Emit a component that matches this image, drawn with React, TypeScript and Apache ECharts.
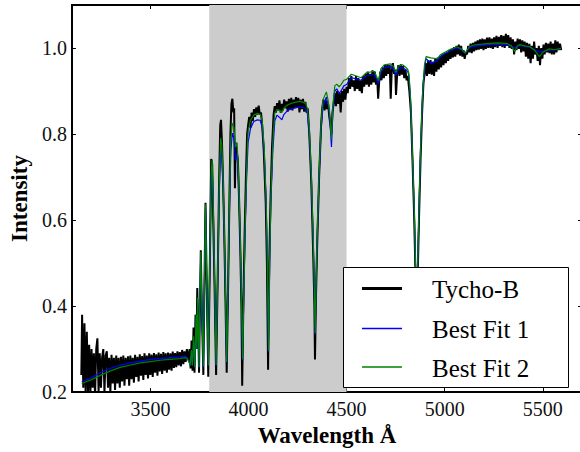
import React, { useEffect, useRef } from "react";
import * as echarts from "echarts";

const tickWavelengths = [3500, 4000, 4500, 5000, 5500];
const tickIntensities = [0.2, 0.4, 0.6, 0.8, 1.0];
const shadedRange = [3800, 4500];
const seriesNames = ["Tycho-B", "Best Fit 1", "Best Fit 2"];
const seriesColors = ["#000000", "#0000ff", "#008000"];

const fitWavelengths = [
  3150, 3200, 3250, 3300, 3350, 3400, 3450, 3500, 3550, 3600, 3650, 3678, 3690, 3698,
  3703, 3709, 3714, 3720, 3726, 3733, 3737, 3741, 3748, 3752, 3757, 3763, 3770, 3775,
  3781, 3787, 3795, 3803, 3810, 3815, 3820, 3827, 3835, 3843, 3850, 3858, 3864, 3870,
  3877, 3883, 3889, 3895, 3902, 3910, 3918, 3926, 3934, 3942, 3950, 3958, 3964, 3970,
  3976, 3982, 3990, 3998, 4010, 4027, 4045, 4060, 4070, 4080, 4090, 4096, 4102, 4108,
  4114, 4124, 4134, 4145, 4160, 4170, 4180, 4200, 4230, 4263, 4290, 4300, 4310, 4320,
  4330, 4336, 4340, 4344, 4350, 4360, 4370, 4380, 4397, 4406, 4414, 4423, 4430, 4440,
  4450, 4462, 4472, 4486, 4500, 4524, 4550, 4574, 4600, 4641, 4663, 4675, 4692, 4725,
  4740, 4751, 4765, 4785, 4800, 4812, 4818, 4826, 4835, 4845, 4851, 4857, 4863, 4869,
  4877, 4887, 4897, 4905, 4930, 4962, 4978, 5020, 5062, 5085, 5105, 5125, 5147, 5190,
  5231, 5270, 5315, 5340, 5357, 5370, 5382, 5410, 5433, 5460, 5483, 5500, 5533, 5560, 5593,
];

const bestFit1 = [
  0.224, 0.234, 0.246, 0.256, 0.263, 0.268, 0.272, 0.276, 0.278, 0.280, 0.282, 0.284, 0.278, 0.270,
  0.262, 0.290, 0.262, 0.320, 0.258, 0.370, 0.300, 0.415, 0.258, 0.400, 0.515, 0.380, 0.258, 0.430,
  0.628, 0.460, 0.261, 0.500, 0.700, 0.728, 0.640, 0.460, 0.261, 0.460, 0.650, 0.761, 0.745, 0.690,
  0.560, 0.420, 0.268, 0.420, 0.600, 0.760, 0.802, 0.790, 0.740, 0.755, 0.680, 0.550, 0.420, 0.274,
  0.420, 0.550, 0.690, 0.780, 0.812, 0.829, 0.833, 0.832, 0.815, 0.760, 0.640, 0.500, 0.294, 0.500,
  0.640, 0.760, 0.830, 0.844, 0.838, 0.833, 0.845, 0.855, 0.860, 0.863, 0.860, 0.848, 0.800, 0.700,
  0.550, 0.430, 0.334, 0.430, 0.550, 0.700, 0.810, 0.865, 0.886, 0.868, 0.840, 0.770, 0.850, 0.900,
  0.905, 0.895, 0.900, 0.912, 0.915, 0.931, 0.928, 0.925, 0.935, 0.939, 0.917, 0.945, 0.954, 0.958,
  0.950, 0.936, 0.952, 0.955, 0.950, 0.945, 0.935, 0.880, 0.760, 0.620, 0.500, 0.350, 0.500, 0.620,
  0.760, 0.880, 0.950, 0.975, 0.965, 0.970, 0.980, 0.992, 1.000, 0.996, 0.988, 1.000, 1.004, 1.006,
  1.008, 1.009, 1.008, 1.004, 1.000, 1.004, 1.006, 1.004, 1.002, 0.996, 0.990, 0.993, 0.995, 0.996, 0.998,
];

const bestFit2 = [
  0.220, 0.229, 0.240, 0.250, 0.258, 0.263, 0.268, 0.271, 0.274, 0.276, 0.278, 0.280, 0.276, 0.268,
  0.262, 0.298, 0.262, 0.330, 0.258, 0.380, 0.300, 0.420, 0.258, 0.410, 0.526, 0.385, 0.260, 0.440,
  0.637, 0.465, 0.262, 0.510, 0.712, 0.740, 0.650, 0.465, 0.263, 0.470, 0.670, 0.791, 0.775, 0.710,
  0.570, 0.425, 0.270, 0.430, 0.620, 0.790, 0.825, 0.815, 0.770, 0.780, 0.700, 0.560, 0.425, 0.277,
  0.425, 0.565, 0.710, 0.805, 0.832, 0.844, 0.848, 0.846, 0.830, 0.770, 0.650, 0.510, 0.297, 0.510,
  0.650, 0.780, 0.848, 0.857, 0.855, 0.850, 0.860, 0.868, 0.873, 0.876, 0.872, 0.860, 0.815, 0.710,
  0.560, 0.435, 0.337, 0.435, 0.560, 0.710, 0.825, 0.880, 0.898, 0.878, 0.850, 0.788, 0.865, 0.912,
  0.916, 0.910, 0.915, 0.925, 0.927, 0.939, 0.935, 0.931, 0.942, 0.946, 0.924, 0.952, 0.961, 0.963,
  0.956, 0.943, 0.958, 0.961, 0.956, 0.950, 0.940, 0.885, 0.765, 0.625, 0.505, 0.360, 0.505, 0.625,
  0.765, 0.890, 0.960, 0.980, 0.977, 0.975, 0.984, 0.995, 1.003, 0.998, 0.988, 1.003, 1.007, 1.009,
  1.011, 1.012, 1.011, 1.005, 0.992, 1.004, 1.008, 1.005, 1.003, 0.994, 0.980, 0.990, 0.998, 0.996, 0.999,
];

const tychoWavelengths = [
  3148, 3152, 3158, 3164, 3170, 3176, 3182, 3188, 3194, 3200, 3206, 3212, 3218, 3224, 3230, 3236,
  3242, 3248, 3254, 3260, 3266, 3272, 3278, 3284, 3290, 3296, 3302, 3308, 3314, 3320, 3326, 3332,
  3338, 3344, 3350, 3356, 3362, 3368, 3374, 3380, 3386, 3392, 3398, 3404, 3410, 3416, 3422, 3428,
  3434, 3440, 3446, 3452, 3458, 3464, 3470, 3476, 3482, 3488, 3494, 3500, 3506, 3512, 3518, 3524,
  3530, 3536, 3542, 3548, 3554, 3560, 3566, 3572, 3578, 3584, 3590, 3596, 3602, 3608, 3614, 3620,
  3626, 3632, 3638, 3644, 3650, 3656, 3662, 3668, 3674, 3680, 3686,
  3690, 3695, 3700, 3705, 3710, 3715, 3720, 3725, 3730, 3735, 3739, 3744, 3748, 3752, 3757, 3763,
  3770, 3775, 3781, 3787, 3795, 3803, 3810, 3815, 3820, 3827, 3835, 3843, 3850, 3856, 3860, 3865,
  3870, 3877, 3883, 3889, 3895, 3902, 3908, 3913, 3918, 3923, 3927, 3931, 3935, 3940, 3946, 3952,
  3958, 3964, 3968, 3974, 3980, 3987, 3993, 3998, 4004, 4010, 4016, 4022, 4028, 4034, 4040, 4046,
  4052, 4058, 4064, 4070, 4078, 4088, 4094, 4100, 4106, 4112, 4120, 4128, 4134, 4140, 4146, 4152,
  4158, 4164, 4170, 4176, 4182, 4188, 4194, 4200, 4206, 4212, 4218, 4224, 4230, 4236, 4242, 4248,
  4254, 4260, 4266, 4272, 4278, 4284, 4290, 4296, 4302, 4310, 4320, 4330, 4336, 4339, 4344, 4350,
  4360, 4370, 4376, 4382, 4388, 4394, 4400, 4406, 4412, 4418, 4423, 4428, 4434, 4440, 4446, 4452,
  4458, 4464, 4470, 4476, 4482, 4488, 4494, 4500,
  4506, 4512, 4518, 4524, 4530, 4536, 4542, 4548, 4554, 4560, 4566, 4572, 4578, 4584, 4590, 4596,
  4602, 4608, 4614, 4620, 4626, 4632, 4638, 4644, 4650, 4656, 4661, 4666, 4672, 4678, 4684, 4690,
  4696, 4702, 4708, 4714, 4720, 4725, 4730, 4736, 4742, 4748, 4752, 4758, 4764, 4770, 4776, 4782,
  4788, 4794, 4800, 4806, 4812, 4820, 4828, 4836, 4845, 4851, 4857, 4863, 4869, 4877, 4885, 4892,
  4898, 4904, 4910, 4916, 4922, 4928, 4934, 4940, 4946, 4952, 4958, 4964, 4970, 4976, 4982, 4988,
  4994, 5000, 5006, 5012, 5018, 5024, 5030, 5036, 5042, 5048, 5054, 5060, 5066, 5072, 5078, 5084,
  5090, 5096, 5102, 5108, 5114, 5120, 5126, 5132, 5138, 5144, 5150, 5156, 5162, 5168, 5174, 5180,
  5186, 5192, 5198, 5204, 5210, 5216, 5222, 5228, 5234, 5240, 5246, 5252, 5258, 5264, 5270, 5276,
  5282, 5288, 5294, 5300, 5306, 5312, 5318, 5324, 5330, 5336, 5342, 5348, 5354, 5360, 5366, 5372,
  5378, 5384, 5390, 5396, 5402, 5408, 5414, 5420, 5426, 5432, 5438, 5444, 5450, 5456, 5462, 5468,
  5474, 5480, 5486, 5492, 5498, 5504, 5510, 5516, 5522, 5528, 5534, 5540, 5546, 5552, 5558, 5564,
  5570, 5576, 5582, 5588, 5594,
];

const tychoIntensity = [
  0.240, 0.380, 0.210, 0.360, 0.190, 0.340, 0.200, 0.310, 0.190, 0.300, 0.210, 0.290, 0.190, 0.300, 0.325, 0.200,
  0.290, 0.210, 0.280, 0.300, 0.200, 0.285, 0.295, 0.210, 0.280, 0.200, 0.287, 0.220, 0.280, 0.205, 0.285, 0.220,
  0.280, 0.210, 0.282, 0.225, 0.285, 0.215, 0.280, 0.230, 0.283, 0.215, 0.285, 0.230, 0.280, 0.222, 0.287, 0.235,
  0.282, 0.225, 0.288, 0.238, 0.284, 0.228, 0.290, 0.240, 0.285, 0.232, 0.290, 0.240, 0.287, 0.235, 0.291, 0.245,
  0.288, 0.238, 0.292, 0.248, 0.289, 0.242, 0.293, 0.250, 0.290, 0.245, 0.292, 0.252, 0.290, 0.250, 0.294, 0.256,
  0.291, 0.258, 0.295, 0.262, 0.293, 0.260, 0.298, 0.265, 0.295, 0.270, 0.300,
  0.290, 0.275, 0.300, 0.255, 0.320, 0.250, 0.350, 0.245, 0.380, 0.300, 0.442, 0.350, 0.245, 0.380, 0.530, 0.380,
  0.240, 0.430, 0.640, 0.460, 0.236, 0.500, 0.742, 0.730, 0.610, 0.450, 0.240, 0.460, 0.680, 0.820, 0.833, 0.780,
  0.700, 0.560, 0.410, 0.245, 0.410, 0.620, 0.800, 0.870, 0.882, 0.850, 0.860, 0.674, 0.780, 0.760, 0.740, 0.650,
  0.540, 0.400, 0.215, 0.410, 0.560, 0.700, 0.800, 0.820, 0.840, 0.815, 0.850, 0.830, 0.858, 0.840, 0.862, 0.845,
  0.866, 0.845, 0.850, 0.820, 0.760, 0.640, 0.500, 0.252, 0.500, 0.640, 0.770, 0.845, 0.865, 0.850, 0.872, 0.855,
  0.878, 0.850, 0.870, 0.855, 0.880, 0.860, 0.876, 0.852, 0.882, 0.858, 0.884, 0.855, 0.880, 0.860, 0.886, 0.862,
  0.884, 0.850, 0.880, 0.858, 0.882, 0.852, 0.875, 0.850, 0.860, 0.800, 0.690, 0.520, 0.400, 0.276, 0.420, 0.540,
  0.700, 0.820, 0.860, 0.880, 0.855, 0.878, 0.858, 0.870, 0.840, 0.820, 0.800, 0.850, 0.870, 0.895, 0.865, 0.900,
  0.870, 0.895, 0.850, 0.900, 0.875, 0.905, 0.880, 0.910,
  0.895, 0.930, 0.905, 0.935, 0.910, 0.925, 0.900, 0.935, 0.905, 0.930, 0.900, 0.925, 0.895, 0.935, 0.910, 0.940,
  0.915, 0.945, 0.910, 0.940, 0.915, 0.948, 0.920, 0.945, 0.915, 0.930, 0.882, 0.920, 0.945, 0.925, 0.955, 0.930,
  0.960, 0.935, 0.962, 0.940, 0.960, 0.882, 0.945, 0.965, 0.940, 0.950, 0.891, 0.940, 0.960, 0.935, 0.962, 0.938,
  0.958, 0.930, 0.950, 0.925, 0.935, 0.900, 0.850, 0.740, 0.600, 0.480, 0.330, 0.480, 0.600, 0.740, 0.850, 0.920,
  0.940, 0.965, 0.935, 0.970, 0.940, 0.972, 0.938, 0.968, 0.935, 0.975, 0.945, 0.978, 0.950, 0.982, 0.955, 0.985,
  0.960, 0.988, 0.965, 0.990, 0.970, 0.995, 0.975, 0.998, 0.978, 1.002, 0.980, 1.005, 0.985, 1.008, 0.982, 1.005,
  0.980, 0.995, 0.975, 0.990, 0.985, 1.005, 0.990, 1.010, 0.988, 1.012, 0.992, 1.015, 0.995, 1.018, 0.996, 1.020,
  0.998, 1.022, 0.995, 1.020, 0.998, 1.024, 1.000, 1.025, 1.000, 1.022, 0.998, 1.025, 1.002, 1.028, 1.000, 1.026,
  1.005, 1.030, 1.002, 1.028, 1.000, 1.033, 1.005, 1.030, 1.000, 1.025, 0.998, 1.020, 0.985, 1.015, 0.995, 1.022,
  0.998, 1.020, 0.990, 1.018, 0.992, 1.015, 0.980, 1.012, 0.975, 1.010, 0.965, 1.005, 0.975, 1.015, 0.985, 1.000,
  0.970, 1.005, 0.960, 1.000, 0.975, 1.008, 0.985, 1.012, 0.990, 1.010, 0.988, 1.015, 0.985, 1.010, 0.985, 1.018,
  0.990, 1.015, 0.995, 1.010, 0.995,
];

const FONT = "Liberation Serif";

export default function App() {
  const ref = useRef<HTMLDivElement>(null);

  useEffect(() => {
    if (!ref.current) return;
    const chart = echarts.init(ref.current, null, { renderer: "svg" });
    const zip = (xs: number[], ys: number[]) => xs.map((x, i) => [x, ys[i]]);

    const spine = { show: true, onZero: false, lineStyle: { color: "#000", width: 2 } };
    const tickStyle = { color: "#000", width: 1 };

    const legendRows = [288.5, 328.5, 367];
    const legendWidths = [3, 1.5, 1.5];
    const LZ = 100;

    chart.setOption({
      animation: false,
      backgroundColor: "#ffffff",
      grid: { left: 68, right: 0, top: 5, bottom: 50, show: false },
      xAxis: [
        {
          type: "value",
          position: "bottom",
          min: 3100,
          max: 5700,
          axisLine: spine,
          axisTick: { show: true, inside: true, length: 4, customValues: tickWavelengths, lineStyle: tickStyle },
          axisLabel: {
            show: true,
            customValues: tickWavelengths,
            formatter: (v: number) => String(v),
            fontFamily: FONT,
            fontSize: 20,
            color: "#111",
            margin: 7,
          },
          splitLine: { show: false },
          name: "Wavelength Å",
          nameLocation: "middle",
          nameGap: 27,
          nameTextStyle: { fontFamily: FONT, fontSize: 23, fontWeight: "bold", color: "#000" },
        },
        {
          type: "value",
          position: "top",
          min: 3100,
          max: 5700,
          axisLine: spine,
          axisTick: { show: true, inside: true, length: 4, customValues: tickWavelengths, lineStyle: tickStyle },
          axisLabel: { show: false },
          splitLine: { show: false },
        },
      ],
      yAxis: [
        {
          type: "value",
          position: "left",
          min: 0.2,
          max: 1.1,
          axisLine: spine,
          axisTick: { show: true, inside: true, length: 4, customValues: tickIntensities, lineStyle: tickStyle },
          axisLabel: {
            show: true,
            customValues: tickIntensities,
            formatter: (v: number) => v.toFixed(1),
            fontFamily: FONT,
            fontSize: 20,
            color: "#111",
            margin: 5,
          },
          splitLine: { show: false },
          name: "Intensity",
          nameLocation: "middle",
          nameGap: 38,
          nameTextStyle: { fontFamily: FONT, fontSize: 23, fontWeight: "bold", color: "#000" },
        },
        {
          type: "value",
          position: "right",
          min: 0.2,
          max: 1.1,
          axisLine: spine,
          axisTick: { show: true, inside: true, length: 4, customValues: tickIntensities, lineStyle: tickStyle },
          axisLabel: { show: false },
          splitLine: { show: false },
        },
      ],
      series: [
        {
          name: seriesNames[0],
          type: "line",
          xAxisIndex: 0,
          yAxisIndex: 0,
          data: zip(tychoWavelengths, tychoIntensity),
          symbol: "none",
          showSymbol: false,
          clip: true,
          color: seriesColors[0],
          lineStyle: { color: seriesColors[0], width: 2 },
          z: 2,
          markArea: {
            silent: true,
            itemStyle: { color: "#cccccc" },
            data: [[{ xAxis: shadedRange[0] }, { xAxis: shadedRange[1] }]],
          },
        },
        {
          name: seriesNames[1],
          type: "line",
          data: zip(fitWavelengths, bestFit1),
          symbol: "none",
          showSymbol: false,
          clip: true,
          color: seriesColors[1],
          lineStyle: { color: seriesColors[1], width: 1.2 },
          z: 3,
        },
        {
          name: seriesNames[2],
          type: "line",
          data: zip(fitWavelengths, bestFit2),
          symbol: "none",
          showSymbol: false,
          clip: true,
          color: seriesColors[2],
          lineStyle: { color: seriesColors[2], width: 1.2 },
          z: 4,
        },
      ],
      graphic: [
        {
          type: "rect",
          z: LZ,
          shape: { x: 343.5, y: 267.5, width: 225, height: 120 },
          style: { fill: "#ffffff", stroke: "#000", lineWidth: 1 },
        },
        ...seriesNames.map((n, i) => ({
          type: "line",
          z: LZ + 1,
          shape: { x1: 362, y1: legendRows[i], x2: 402, y2: legendRows[i] },
          style: { stroke: seriesColors[i], lineWidth: legendWidths[i] },
        })),
        ...seriesNames.map((n, i) => ({
          type: "text",
          z: LZ + 1,
          x: 432,
          y: legendRows[i] + 1,
          style: {
            text: n,
            fontFamily: FONT,
            fontSize: 25,
            fill: "#000",
            verticalAlign: "middle",
            align: "left",
          },
        })),
      ],
    });

    return () => chart.dispose();
  }, []);

  return (
    <div style={{ position: "fixed", left: 0, top: 0, width: 580, height: 452, overflow: "hidden", background: "#fff" }}>
      <div ref={ref} style={{ width: 582, height: 452 }} />
    </div>
  );
}
